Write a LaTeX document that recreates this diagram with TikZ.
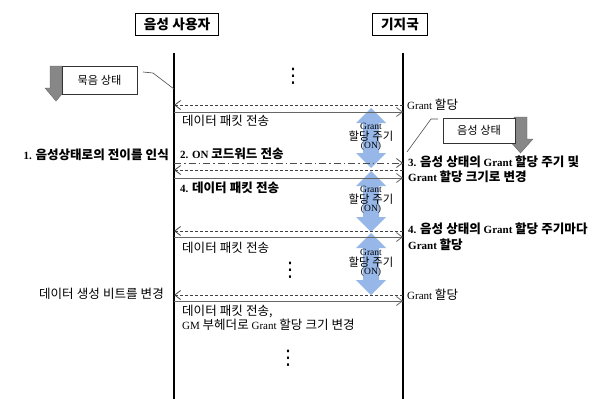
\documentclass[tikz,border=0pt]{standalone}
\usepackage{fontspec}
\setmainfont{Liberation Serif}
\newfontfamily\krf[Scale=1.14,WordSpace=1.1]{Noto Sans CJK KR}
\newfontfamily\dvf{DejaVu Sans}
\usetikzlibrary{arrows.meta}
\newcommand\K[1]{{\krf #1}}
\definecolor{arrgray}{RGB}{135,135,135}
\definecolor{arrgrayd}{RGB}{100,100,100}
\definecolor{lblue}{RGB}{150,183,232}
\tikzset{
 hdr/.style={draw=black, line width=0.7pt, fill=white, minimum height=22pt, inner sep=0pt, font=\fontsize{12}{14}\selectfont\bfseries},
 statebox/.style={draw=black!80, line width=0.6pt, fill=white, inner sep=0pt, font=\fontsize{9.8}{12}\selectfont},
 life/.style={line width=1.4pt, draw=black},
 tipb/.style={-{Straight Barb[length=6pt,width=9pt,line width=0.8pt]}},
 msgsolid/.style={draw=black!60, line width=0.8pt, tipb},
 msgdash/.style={draw=black!75, line width=0.7pt, dash pattern=on 3pt off 2pt, tipb},
 msgdashdot/.style={draw=black!70, line width=0.7pt, dash pattern=on 7pt off 3pt on 1.5pt off 3pt, tipb},
 lbl/.style={inner sep=0pt, font=\fontsize{11}{14}\selectfont, align=left},
 blbl/.style={inner sep=0pt, font=\fontsize{11}{15.5}\selectfont\bfseries, align=left},
 callout/.style={draw=black!70, line width=0.6pt},
 grayarrow/.style={fill=arrgray, draw=arrgrayd, line width=0.4pt},
 bluearrow/.style={fill=lblue, draw=none},
 intlbl/.style={inner sep=0pt, font=\fontsize{9.5}{10}\selectfont},
 intkr/.style={inner sep=0pt, font=\fontsize{10}{11}\selectfont},
 vdotsn/.style={inner sep=0pt, font=\dvf\fontsize{20}{20}\selectfont}
}
\begin{document}
\begin{tikzpicture}[x=1pt,y=-1pt]
\useasboundingbox (0,0) rectangle (611,399);
% headers
\node[hdr, minimum width=83pt] (user) at (177,24) {\K{음성 사용자}};
\node[hdr, minimum width=55pt] (bs) at (400,24) {\K{기지국}};
% lifelines
\coordinate (uTop) at (174,53); \coordinate (uBot) at (174,399);
\coordinate (bTop) at (403,53); \coordinate (bBot) at (403,399);
% blue interval arrows
\foreach \yt/\yb/\n in {108/168/1,171/232/2,233/295/3}{
  \fill[bluearrow] (371,\yt) -- ++(15,15) -- ++(-7,0) -- (379,\yb-15) -- ++(7,0) -- (371,\yb) -- (356,\yb-15) -- ++(7,0) -- (363,\yt+15) -- ++(-7,0) -- cycle;
  \node[intlbl] (gG\n) at (371,{(\yt+\yb)/2-12}) {Grant};
  \node[intkr] (gK\n) at (371,{(\yt+\yb)/2-2}) {\K{할당 주기}};
  \node[intlbl] (gO\n) at (371,{(\yt+\yb)/2+8}) {(ON)};
}
\draw[life] (uTop) -- (uBot);
\draw[life] (bTop) -- (bBot);
% mute state
\fill[grayarrow] (50,66) -- (62,66) -- (62,88) -- (67,88) -- (56,101) -- (45,88) -- (50,88) -- cycle;
\node[statebox, minimum width=75pt, minimum height=28pt] (mute) at (99.5,80) {\K{묵음 상태}};
\coordinate (mc1) at (143,72); \coordinate (mc2) at (153,73); \coordinate (uMute) at (174,89);
\draw[callout] (mc1) -- (mc2) -- (uMute);
% voice state
\fill[grayarrow] (514,117) -- (527,117) -- (527,139) -- (533,139) -- (520.5,153) -- (508,139) -- (514,139) -- cycle;
\node[statebox, minimum width=72pt, minimum height=25pt] (voice) at (479,130.5) {\K{음성 상태}};
\coordinate (vc1) at (438,119); \coordinate (vc2) at (431,119); \coordinate (bVoice) at (407,152);
\draw[callout] (vc1) -- (vc2) -- (bVoice);
% dots
\node[vdotsn] (d1) at (293,76) {⋮};
\node[vdotsn] (d2) at (290,270) {⋮};
\node[vdotsn] (d3) at (288,358) {⋮};
% message coordinates
\foreach \n/\y in {1/105,2/112,3/163,4/170,5/178,6/231,7/237,8/295,9/301}{
  \coordinate (u\n) at (174,\y); \coordinate (b\n) at (403,\y);
}
\draw[msgdash] (b1) -- (u1);
\draw[msgsolid] (u2) -- (b2);
\draw[msgdashdot] (u3) -- (b3);
\draw[msgdash] (b4) -- (u4);
\draw[msgsolid] (u5) -- (b5);
\draw[msgdash] (b6) -- (u6);
\draw[msgsolid] (u7) -- (b7);
\draw[msgdash] (b8) -- (u8);
\draw[msgsolid] (u9) -- (b9);
% labels
\node[lbl, anchor=west] (l1) at (407,105) {Grant \K{할당}};
\node[lbl, anchor=west] (l2) at (182,121) {\K{데이터 패킷 전송}};
\node[blbl, anchor=west] (l3) at (180,154) {2. ON \K{코드워드 전송}};
\node[blbl, anchor=east] (l3a) at (169,155) {1. \K{음성상태로의 전이를 인식}};
\node[blbl, anchor=west] (l4) at (408,169.5) {3. \K{음성 상태의} Grant \K{할당 주기 및}\\Grant \K{할당 크기로 변경}};
\node[blbl, anchor=west] (l5) at (180,188) {4. \K{데이터 패킷 전송}};
\node[blbl, anchor=west] (l6) at (408,237) {4. \K{음성 상태의} Grant \K{할당 주기마다}\\Grant \K{할당}};
\node[lbl, anchor=west] (l7) at (182,248) {\K{데이터 패킷 전송}};
\node[lbl, anchor=west] (l8) at (407,295) {Grant \K{할당}};
\node[lbl, anchor=east] (l8a) at (164,294) {\K{데이터 생성 비트를 변경}};
\node[lbl, anchor=west] (l9) at (182,318) {\K{데이터 패킷 전송,}\\GM \K{부헤더로} Grant \K{할당 크기 변경}};
\end{tikzpicture}
\end{document}
